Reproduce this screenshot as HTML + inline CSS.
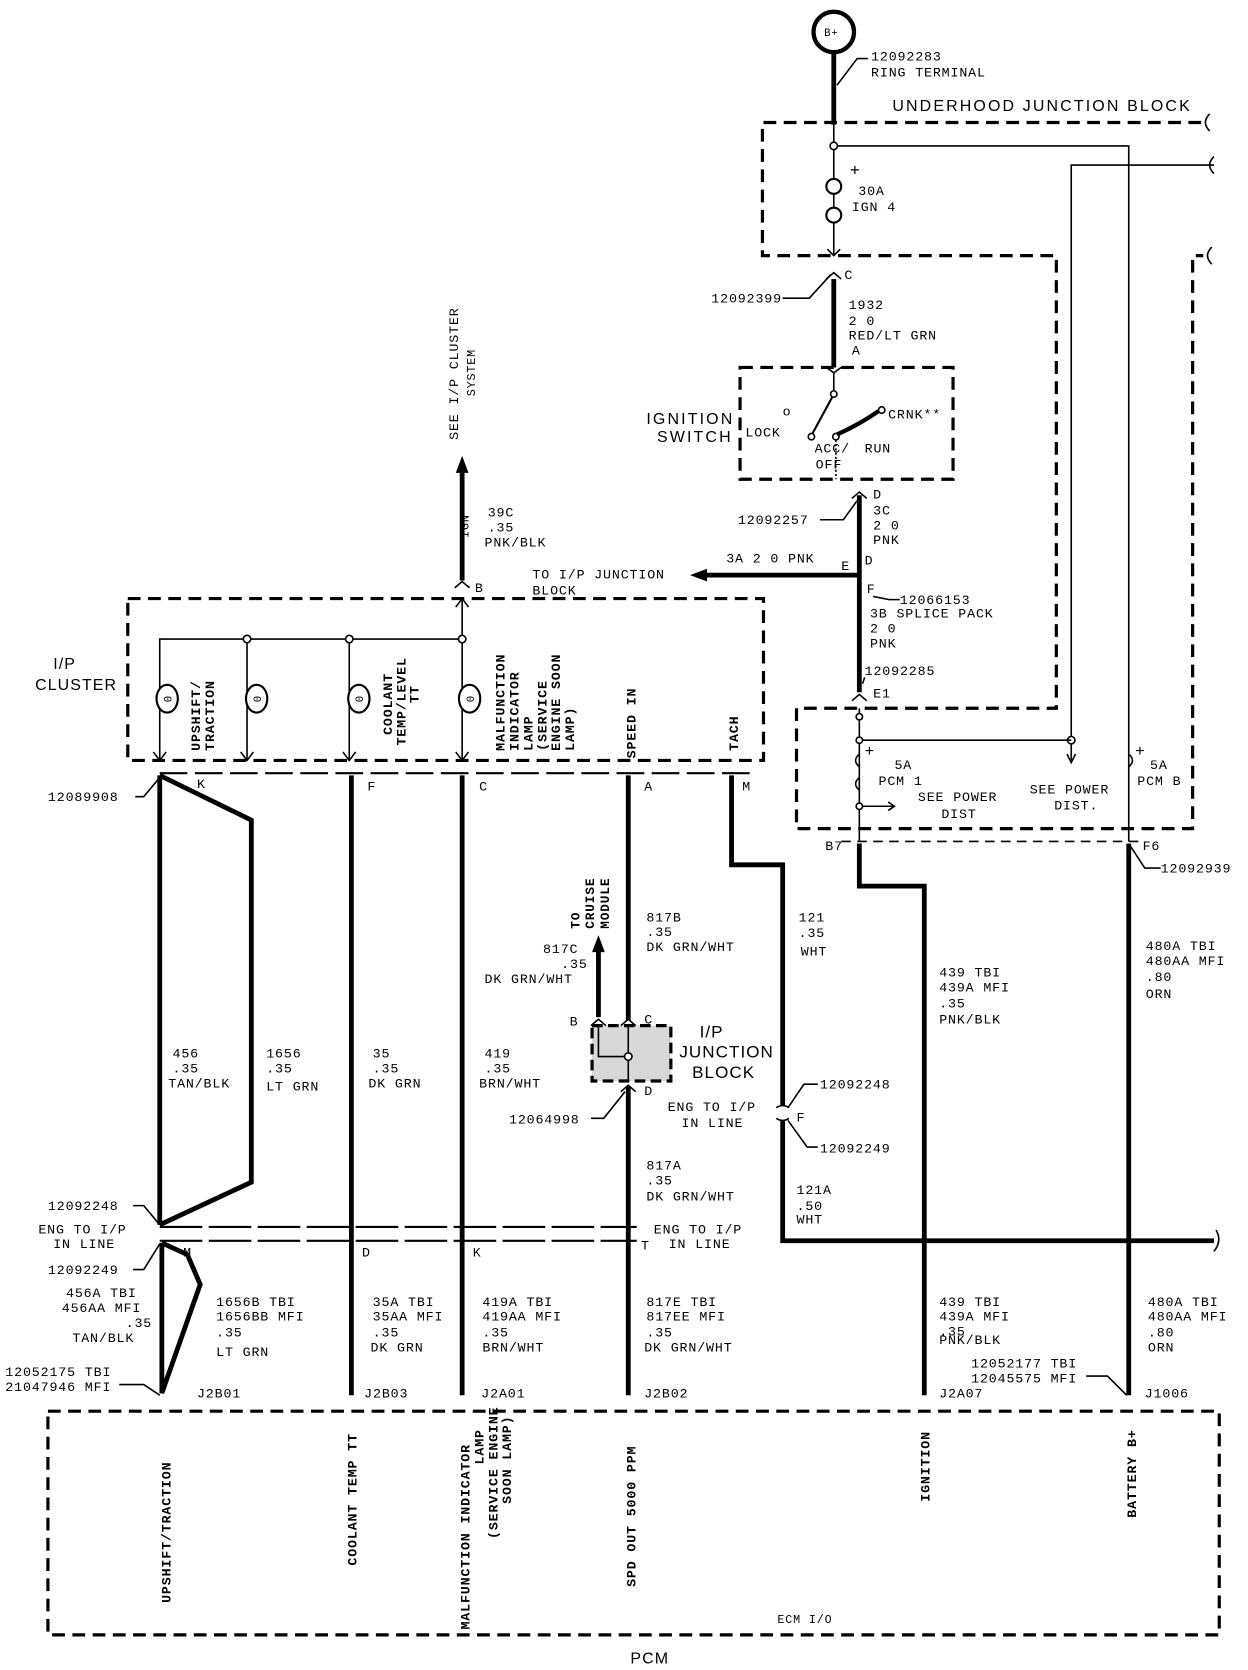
<!DOCTYPE html>
<html><head><meta charset="utf-8"><style>
html,body{margin:0;padding:0;background:#fff;}
svg{display:block}
text{font-family:"Liberation Mono",monospace;font-size:12.5px;fill:#000;letter-spacing:0.8px}
.b{font-family:"Liberation Sans",sans-serif;font-size:15px;letter-spacing:2px}
.w{stroke:#000;stroke-width:4.5;fill:none}
.t{stroke:#000;stroke-width:1.5;fill:none}
.d{stroke:#000;stroke-width:3;fill:none;stroke-dasharray:12 7}
.r{font-family:"Liberation Sans",sans-serif;font-size:11px;font-weight:bold;letter-spacing:0.5px}
</style></head><body>
<svg width="1248" height="1670" viewBox="0 0 1172 1568" preserveAspectRatio="none" xmlns="http://www.w3.org/2000/svg">
<rect width="1172" height="1568" fill="#fff"/>
<circle cx="783" cy="30" r="19" fill="none" stroke="#000" stroke-width="4"/>
<text x="774" y="34" style="font-size:10px">B+</text>
<line class="w" x1="783" y1="49" x2="783" y2="117"/>
<line class="t" x1="783" y1="117" x2="783" y2="240"/>
<polyline class="t" points="786,80 805,55 815,55"/>
<text x="818" y="57">12092283</text><text x="818" y="72">RING TERMINAL</text>
<text x="838" y="104" class="b">UNDERHOOD JUNCTION BLOCK</text>
<polyline class="d" points="1128,115 716,115 716,240 992,240 992,665 748,665 748,778 1120,778 1120,240 1130,240"/>
<path class="t" d="M1136,107 q-8,8 0,16 M1140,147 q-8,8 0,16 M1138,232 q-8,8 0,16"/>
<circle cx="783" cy="137" r="3.5" fill="#fff" stroke="#000" stroke-width="1.5"/>
<polyline class="t" points="786,137 1060,137 1060,790"/>
<polyline class="t" points="1140,155 1006,155 1006,695"/>
<polyline class="t" points="1002,708 1006,716 1010,708"/>
<line class="t" x1="1006" y1="695" x2="1006" y2="716"/>
<circle cx="1006" cy="695" r="3.5" fill="#fff" stroke="#000" stroke-width="1.5"/>
<line class="t" x1="807" y1="695" x2="1006" y2="695"/>
<circle cx="783" cy="175" r="7" fill="#fff" stroke="#000" stroke-width="2"/>
<circle cx="783" cy="202" r="7" fill="#fff" stroke="#000" stroke-width="2"/>
<text x="798" y="165" style="font-size:16px">+</text>
<text x="806" y="183">30A</text><text x="800" y="198">IGN 4</text>
<polyline class="t" points="777,234 783,240 789,234"/>
<polyline class="t" points="776,262 783,256 790,262"/>
<text x="793" y="262">C</text>
<text x="668" y="284">12092399</text><polyline class="t" points="735,280 760,280 780,258"/>
<line class="w" x1="783" y1="262" x2="783" y2="345"/>
<text x="797" y="290">1932</text><text x="797" y="305">2 0</text><text x="797" y="319">RED/LT GRN</text><text x="800" y="333">A</text>
<polyline class="t" points="776,345 783,350 790,345"/>
<rect x="695" y="345" width="200" height="105" class="d"/>
<text x="607" y="398" class="b">IGNITION</text><text x="617" y="415" class="b">SWITCH</text>
<text x="700" y="410">LOCK</text><text x="735" y="390">o</text>
<line class="t" x1="783" y1="350" x2="783" y2="368"/>
<circle cx="783" cy="370" r="3" fill="#fff" stroke="#000" stroke-width="1.5"/>
<line stroke="#000" stroke-width="2" x1="782" y1="372" x2="763" y2="407"/>
<circle cx="762" cy="410" r="3" fill="#fff" stroke="#000" stroke-width="1.5"/>
<circle cx="785" cy="410" r="3" fill="#fff" stroke="#000" stroke-width="1.5"/>
<path d="M786,408 Q808,398 825,386" stroke="#000" stroke-width="4" fill="none"/>
<circle cx="828" cy="385" r="3" fill="#fff" stroke="#000" stroke-width="1.5"/>
<text x="834" y="393">CRNK**</text>
<text x="765" y="425">ACC/</text><text x="766" y="440">OFF</text><text x="812" y="425">RUN</text>
<line stroke="#000" stroke-width="1.5" stroke-dasharray="2 2" x1="785" y1="413" x2="785" y2="450"/>
<polyline class="t" points="800,468 807,462 814,468"/>
<text x="820" y="468">D</text>
<text x="693" y="492">12092257</text><polyline class="t" points="770,488 792,488 805,470"/>
<line class="w" x1="807" y1="465" x2="807" y2="650"/>
<text x="820" y="483">3C</text><text x="820" y="497">2 0</text><text x="820" y="511">PNK</text>
<text x="790" y="535">E</text><text x="812" y="530">D</text>
<line class="w" x1="807" y1="540" x2="660" y2="540"/>
<polygon points="648,540 664,534 664,546" fill="#000"/>
<text x="682" y="528">3A 2 0 PNK</text>
<text x="500" y="543">TO I/P JUNCTION</text><text x="500" y="558">BLOCK</text>
<text x="814" y="557">F</text><polyline class="t" points="820,560 835,563 845,563"/>
<text x="845" y="567">12066153</text>
<text x="817" y="580">3B  SPLICE PACK</text><text x="817" y="594">2 0</text><text x="817" y="608">PNK</text>
<text x="812" y="634">12092285</text><polyline class="t" points="810,642 812,636"/>
<polyline class="t" points="800,658 807,652 814,658"/>
<text x="820" y="655">E1</text>
<line class="t" x1="807" y1="665" x2="807" y2="790"/>
<circle cx="807" cy="673" r="3" fill="#fff" stroke="#000" stroke-width="1.5"/>
<circle cx="807" cy="695" r="3" fill="#fff" stroke="#000" stroke-width="1.5"/>
<path class="t" d="M807,708 q-7,6 0,12 M807,730 q-7,6 0,12" stroke-width="2"/>
<circle cx="807" cy="757" r="3" fill="#fff" stroke="#000" stroke-width="1.5"/>
<line class="t" x1="810" y1="757" x2="840" y2="757"/><polyline class="t" points="834,753 840,757 834,761"/>
<text x="812" y="710" style="font-size:15px">+</text>
<text x="840" y="722">5A</text><text x="825" y="737">PCM 1</text>
<text x="862" y="752">SEE POWER</text><text x="884" y="768">DIST</text>
<text x="967" y="745">SEE POWER</text><text x="990" y="760">DIST.</text>
<path class="t" d="M1060,708 q7,6 0,12" stroke-width="2"/>
<text x="1066" y="710" style="font-size:15px">+</text>
<text x="1080" y="722">5A</text><text x="1068" y="737">PCM B</text>
<line stroke="#000" stroke-width="1.5" stroke-dasharray="9 6" x1="790" y1="790" x2="1072" y2="790"/>
<text x="775" y="798">B7</text><text x="1073" y="798">F6</text>
<polyline class="t" points="1062,795 1075,815 1090,815"/><text x="1090" y="819">12092939</text>
<polyline class="w" points="807,792 807,832 868,832 868,1310"/>
<line class="w" x1="1060" y1="792" x2="1060" y2="1310"/>
<text x="882" y="917">439 TBI</text><text x="882" y="931">439A MFI</text><text x="882" y="946">.35</text><text x="882" y="961">PNK/BLK</text>
<text x="1076" y="892">480A TBI</text><text x="1076" y="906">480AA MFI</text><text x="1076" y="921">.80</text><text x="1076" y="937">ORN</text>
<line class="w" x1="434" y1="442" x2="434" y2="545"/>
<polygon points="434,428 428,444 440,444" fill="#000"/>
<text transform="rotate(-90 430 413)" x="430" y="413">SEE I/P CLUSTER</text>
<text transform="rotate(-90 446 372)" x="446" y="372" style="font-size:11px">SYSTEM</text>
<text transform="rotate(-90 440 505)" x="440" y="505" style="font-size:11px">IGN</text>
<text x="458" y="485">39C</text><text x="458" y="499">.35</text><text x="455" y="513">PNK/BLK</text>
<polyline class="t" points="427,552 434,546 441,552"/><text x="446" y="556">B</text>
<rect x="120" y="562" width="597" height="152" class="d"/>
<text x="50" y="628" class="b" style="letter-spacing:1px">I/P</text><text x="33" y="648" class="b" style="letter-spacing:1px">CLUSTER</text>
<line class="t" x1="434" y1="562" x2="434" y2="714"/>
<polyline class="t" points="150,714 150,600 434,600"/>
<line class="t" x1="232" y1="600" x2="232" y2="714"/>
<line class="t" x1="328" y1="600" x2="328" y2="714"/>
<g fill="#fff" stroke="#000" stroke-width="1.5">
<circle cx="232" cy="600" r="3.5"/><circle cx="328" cy="600" r="3.5"/><circle cx="434" cy="600" r="3.5"/></g>
<g fill="#fff" stroke="#000" stroke-width="2">
<ellipse cx="157" cy="656" rx="10" ry="13"/><ellipse cx="241" cy="656" rx="10" ry="13"/><ellipse cx="337" cy="656" rx="10" ry="13"/><ellipse cx="441" cy="656" rx="10" ry="13"/></g>
<text transform="rotate(-90 157 656)" x="157" y="660" text-anchor="middle" style="font-size:10px">0</text>
<text transform="rotate(-90 241 656)" x="241" y="660" text-anchor="middle" style="font-size:10px">0</text>
<text transform="rotate(-90 337 656)" x="337" y="660" text-anchor="middle" style="font-size:10px">0</text>
<text transform="rotate(-90 441 656)" x="441" y="660" text-anchor="middle" style="font-size:10px">0</text>
<g class="t"><polyline points="144,706 150,714 156,706"/><polyline points="226,706 232,714 238,706"/><polyline points="322,706 328,714 334,706"/><polyline points="428,706 434,714 440,706"/><polyline points="428,570 434,562 440,570"/></g>
<g class="r">
<text transform="rotate(-90 188 705)" x="188" y="705">UPSHIFT/</text>
<text transform="rotate(-90 201 705)" x="201" y="705">TRACTION</text>
<text transform="rotate(-90 368 690)" x="368" y="690">COOLANT</text>
<text transform="rotate(-90 381 700)" x="381" y="700">TEMP/LEVEL</text>
<text transform="rotate(-90 393 660)" x="393" y="660">TT</text>
<text transform="rotate(-90 474 705)" x="474" y="705">MALFUNCTION</text>
<text transform="rotate(-90 487 705)" x="487" y="705">INDICATOR</text>
<text transform="rotate(-90 500 705)" x="500" y="705">LAMP</text>
<text transform="rotate(-90 513 705)" x="513" y="705">(SERVICE</text>
<text transform="rotate(-90 526 705)" x="526" y="705">ENGINE SOON</text>
<text transform="rotate(-90 539 705)" x="539" y="705">LAMP)</text>
<text transform="rotate(-90 597 712)" x="597" y="712">SPEED IN</text>
<text transform="rotate(-90 693 705)" x="693" y="705">TACH</text>
</g>
<line stroke="#000" stroke-width="2" stroke-dasharray="26 7" x1="150" y1="726" x2="705" y2="726"/>
<text x="185" y="740">K</text><text x="345" y="742">F</text><text x="450" y="742">C</text><text x="605" y="742">A</text><text x="697" y="742">M</text>
<text x="45" y="752">12089908</text><polyline class="t" points="127,748 135,748 150,730"/>
<line class="w" x1="150" y1="728" x2="150" y2="1150"/>
<polyline class="w" points="150,728 236,770 236,1110 150,1150"/>
<line class="w" x1="330" y1="728" x2="330" y2="1310"/>
<line class="w" x1="434" y1="728" x2="434" y2="1310"/>
<line class="w" x1="590" y1="728" x2="590" y2="958"/>
<line class="w" x1="590" y1="1020" x2="590" y2="1310"/>
<polyline class="w" points="687,728 687,812 735,812 735,1038"/>
<path class="t" d="M729,1040 q6,-4 12,0 M729,1050 q6,4 12,0" stroke-width="2"/>
<polyline class="w" points="735,1052 735,1165 1140,1165"/>
<path class="t" d="M1142,1155 q6,10 -2,20" stroke-width="2"/>
<text x="162" y="993">456</text><text x="162" y="1007">.35</text><text x="158" y="1021">TAN/BLK</text>
<text x="250" y="993">1656</text><text x="250" y="1007">.35</text><text x="250" y="1024">LT GRN</text>
<text x="350" y="993">35</text><text x="350" y="1007">.35</text><text x="346" y="1021">DK GRN</text>
<text x="455" y="993">419</text><text x="455" y="1007">.35</text><text x="450" y="1021">BRN/WHT</text>
<text x="607" y="865">817B</text><text x="607" y="879">.35</text><text x="607" y="893">DK GRN/WHT</text>
<text x="750" y="865">121</text><text x="750" y="880">.35</text><text x="752" y="897">WHT</text>
<line class="w" x1="562" y1="892" x2="562" y2="955"/>
<polygon points="562,878 556,894 568,894" fill="#000"/>
<g class="r"><text transform="rotate(-90 544 872)" x="544" y="872" style="font-size:12px">TO</text>
<text transform="rotate(-90 558 872)" x="558" y="872" style="font-size:12px">CRUISE</text>
<text transform="rotate(-90 572 872)" x="572" y="872" style="font-size:12px">MODULE</text></g>
<text x="510" y="895">817C</text><text x="527" y="909">.35</text><text x="455" y="923">DK GRN/WHT</text>
<rect x="556" y="963" width="74" height="52" fill="#d8d8d8" stroke="#000" stroke-width="3" stroke-dasharray="10 5"/>
<polyline class="t" points="562,963 562,992 590,992"/><line class="t" x1="590" y1="963" x2="590" y2="1015"/>
<circle cx="590" cy="992" r="3.5" fill="#fff" stroke="#000" stroke-width="1.5"/>
<g class="t"><polyline points="555,963 562,957 569,963"/><polyline points="583,963 590,957 597,963"/><polyline points="583,1025 590,1019 597,1025"/></g>
<text x="535" y="963">B</text><text x="605" y="961">C</text><text x="605" y="1028">D</text>
<text x="657" y="974" class="b" style="font-size:16px;letter-spacing:1px">I/P</text>
<text x="638" y="993" class="b" style="font-size:16px;letter-spacing:1px">JUNCTION</text>
<text x="650" y="1012" class="b" style="font-size:16px;letter-spacing:1px">BLOCK</text>
<text x="478" y="1055">12064998</text><polyline class="t" points="555,1050 567,1050 587,1025"/>
<text x="627" y="1043">ENG TO I/P</text><text x="640" y="1058">IN LINE</text>
<text x="770" y="1022">12092248</text><polyline class="t" points="740,1040 755,1018 768,1018"/>
<text x="748" y="1053">F</text>
<text x="770" y="1082">12092249</text><polyline class="t" points="740,1052 758,1077 768,1077"/>
<text x="607" y="1098">817A</text><text x="607" y="1112">.35</text><text x="607" y="1127">DK GRN/WHT</text>
<text x="748" y="1121">121A</text><text x="748" y="1136">.50</text><text x="748" y="1149">WHT</text>
<line stroke="#000" stroke-width="2" stroke-dasharray="40 6" x1="150" y1="1152" x2="598" y2="1152"/>
<line stroke="#000" stroke-width="2" stroke-dasharray="40 6" x1="150" y1="1165" x2="598" y2="1165"/>
<text x="45" y="1136">12092248</text><polyline class="t" points="125,1132 135,1132 150,1150"/>
<text x="36" y="1158">ENG TO I/P</text><text x="50" y="1172">IN LINE</text>
<text x="45" y="1196">12092249</text><polyline class="t" points="125,1192 135,1192 150,1168"/>
<text x="614" y="1158">ENG TO I/P</text><text x="628" y="1172">IN LINE</text>
<text x="172" y="1180">M</text><text x="340" y="1180">D</text><text x="444" y="1180">K</text><text x="602" y="1173">T</text>
<polyline class="w" points="152,1167 152,1308 188,1206 176,1178 152,1167"/>
<text x="62" y="1218">456A TBI</text><text x="58" y="1232">456AA MFI</text><text x="118" y="1246">.35</text><text x="68" y="1260">TAN/BLK</text>
<text x="5" y="1292">12052175 TBI</text><text x="5" y="1306">21047946 MFI</text><polyline class="t" points="112,1300 135,1300 150,1310"/>
<text x="203" y="1226">1656B TBI</text><text x="203" y="1240">1656BB MFI</text><text x="203" y="1255">.35</text><text x="203" y="1273">LT GRN</text>
<text x="350" y="1226">35A TBI</text><text x="350" y="1240">35AA MFI</text><text x="350" y="1255">.35</text><text x="348" y="1269">DK GRN</text>
<text x="453" y="1226">419A TBI</text><text x="453" y="1240">419AA MFI</text><text x="453" y="1255">.35</text><text x="453" y="1269">BRN/WHT</text>
<text x="607" y="1226">817E TBI</text><text x="607" y="1240">817EE MFI</text><text x="607" y="1255">.35</text><text x="605" y="1269">DK GRN/WHT</text>
<text x="882" y="1226">439 TBI</text><text x="882" y="1240">439A MFI</text><text x="882" y="1254">.35</text><text x="882" y="1262" dy="0">PNK/BLK</text>
<text x="1078" y="1226">480A TBI</text><text x="1078" y="1240">480AA MFI</text><text x="1078" y="1255">.80</text><text x="1078" y="1269">ORN</text>
<text x="912" y="1284">12052177 TBI</text><text x="912" y="1298">12045575 MFI</text><polyline class="t" points="1020,1292 1040,1292 1058,1310"/>
<text x="185" y="1312">J2B01</text><text x="342" y="1312">J2B03</text><text x="452" y="1312">J2A01</text><text x="605" y="1312">J2B02</text><text x="882" y="1312">J2A07</text><text x="1075" y="1312">J1006</text>
<rect x="45" y="1325" width="1100" height="210" class="d"/>
<g class="r">
<text transform="rotate(-90 160 1505)" x="160" y="1505">UPSHIFT/TRACTION</text>
<text transform="rotate(-90 335 1470)" x="335" y="1470">COOLANT TEMP TT</text>
<text transform="rotate(-90 441 1530)" x="441" y="1530">MALFUNCTION INDICATOR</text>
<text transform="rotate(-90 454 1375)" x="454" y="1375">LAMP</text>
<text transform="rotate(-90 467 1445)" x="467" y="1445">(SERVICE ENGINE</text>
<text transform="rotate(-90 480 1412)" x="480" y="1412">SOON LAMP)</text>
<text transform="rotate(-90 597 1490)" x="597" y="1490">SPD OUT 5000 PPM</text>
<text transform="rotate(-90 873 1410)" x="873" y="1410">IGNITION</text>
<text transform="rotate(-90 1067 1425)" x="1067" y="1425">BATTERY B+</text>
</g>
<text x="730" y="1524" style="font-size:11px">ECM I/O</text>
<text x="592" y="1562" class="b" style="letter-spacing:1px">PCM</text>
</svg>
</body></html>
